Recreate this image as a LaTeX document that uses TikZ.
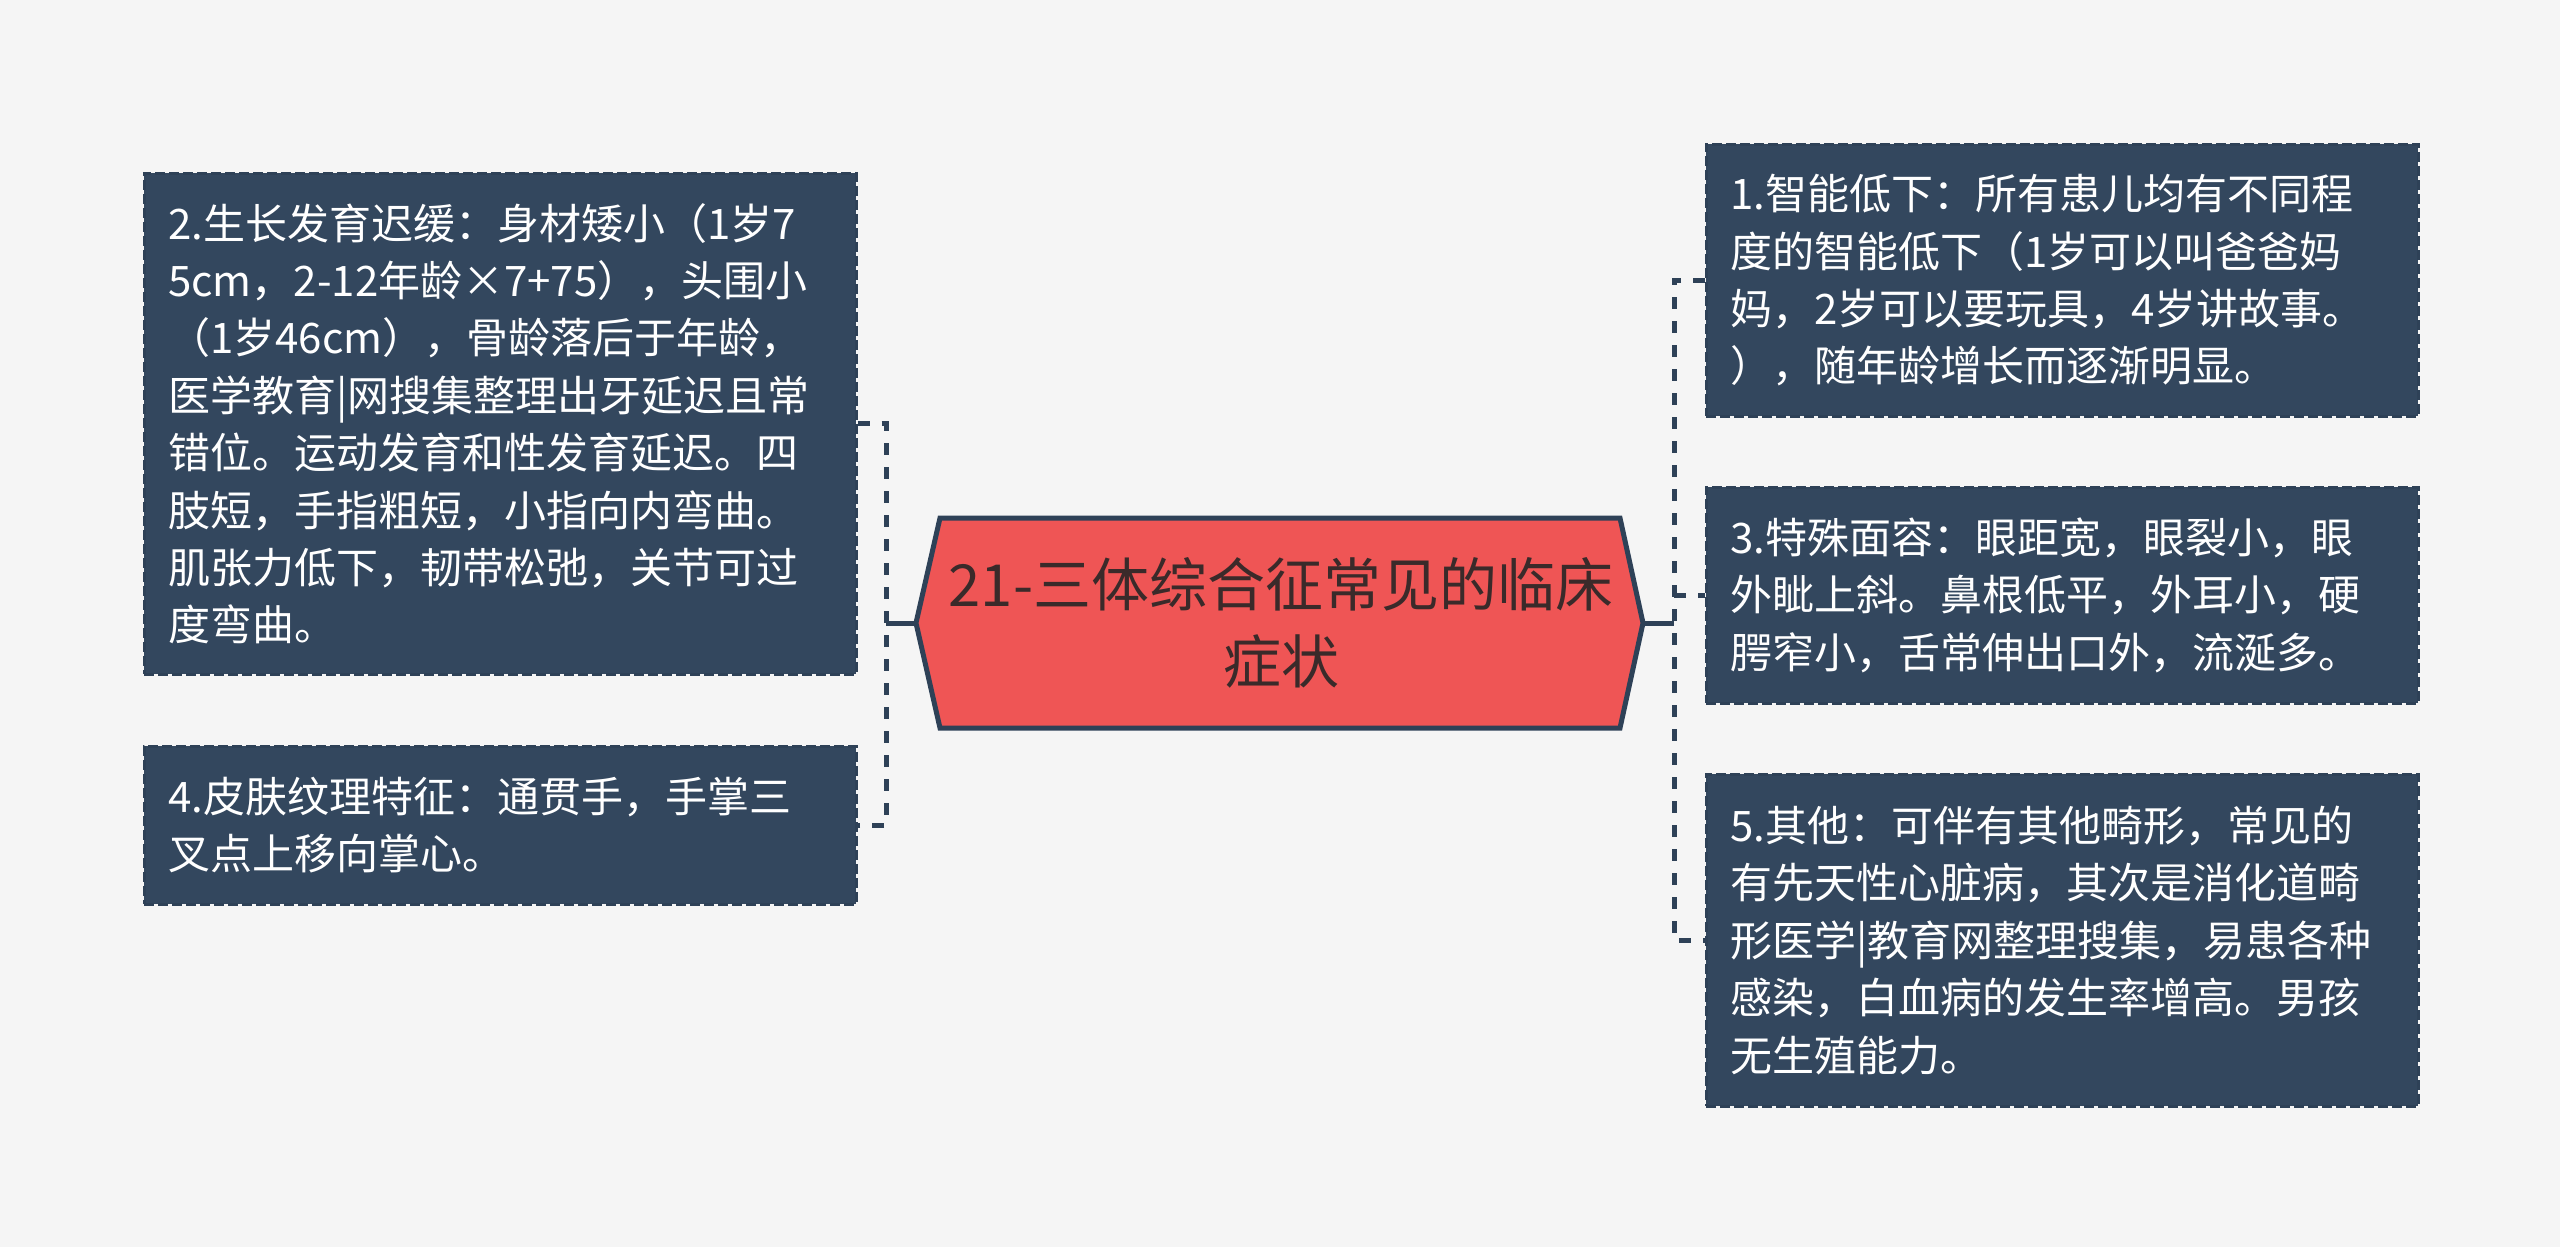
\documentclass[tikz,border=0pt]{standalone}
\usepackage{fontspec}
\setmainfont{Noto Sans CJK SC}
\usepackage{tikz}
\usetikzlibrary{calc}
\usetikzlibrary{positioning}

\definecolor{bgcol}{HTML}{F5F5F5}
\definecolor{navy}{HTML}{33475E}
\definecolor{edgecol}{HTML}{2E4157}
\definecolor{redfill}{HTML}{EF5555}
\definecolor{titletext}{HTML}{3A2A2A}

\begin{document}
\begin{tikzpicture}[x=1pt,y=-1pt,
    card/.style={anchor=north west, fill=navy, draw=edgecol, line width=2.5pt,
      dash pattern=on 10pt off 4pt, text=white, align=left, text width=664pt,
      inner xsep=24pt, inner ysep=0pt, minimum width=712pt,
      font=\fontsize{42}{57.4}\selectfont},
    hexa/.style={fill=redfill, draw=edgecol, line width=5pt, line join=miter},
    stem/.style={draw=edgecol, line width=5pt},
    branch/.style={draw=edgecol, line width=5pt, dash pattern=on 12pt off 12pt}]
    \useasboundingbox[fill=bgcol] (0,0) rectangle (2560,1247);

    % central topic
    \coordinate (ltip) at (916,623);
    \coordinate (rtip) at (1643,623);
    \draw[hexa] (940,518) -- (1620,518) -- (rtip) -- (1620,728) -- (940,728) -- (ltip) -- cycle;
    \node[align=center, text=titletext, font=\fontsize{58}{77}\selectfont] (title) at (1281,623)
      {21-三体综合征常见的临床\\症状};

    % left side
    \node[card, minimum height=501pt] (growth) at (143,172)
      {2.生长发育迟缓：身材矮小（1岁7\\5cm，2-12年龄×7+75），头围小\\（1岁46cm），骨龄落后于年龄，\\医学教育|网搜集整理出牙延迟且常\\错位。运动发育和性发育延迟。四\\肢短，手指粗短，小指向内弯曲。\\肌张力低下，韧带松弛，关节可过\\度弯曲。};
    \node[card, minimum height=158pt] (skin) at (143,745)
      {4.皮肤纹理特征：通贯手，手掌三\\叉点上移向掌心。};

    % right side
    \node[card, minimum height=272pt] (mind) at (1705,143)
      {1.智能低下：所有患儿均有不同程\\度的智能低下（1岁可以叫爸爸妈\\妈，2岁可以要玩具，4岁讲故事。\\），随年龄增长而逐渐明显。};
    \node[card, minimum height=216pt] (face) at (1705,486)
      {3.特殊面容：眼距宽，眼裂小，眼\\外眦上斜。鼻根低平，外耳小，硬\\腭窄小，舌常伸出口外，流涎多。};
    \node[card, minimum height=332pt] (other) at (1705,773)
      {5.其他：可伴有其他畸形，常见的\\有先天性心脏病，其次是消化道畸\\形医学|教育网整理搜集，易患各种\\感染，白血病的发生率增高。男孩\\无生殖能力。};

    % connectors
    \coordinate (lbus) at (886,623);
    \coordinate (rbus) at (1674,623);
    \draw[stem] (ltip) -- (lbus);
    \draw[stem] (rtip) -- (rbus);
    \draw[branch] (growth.east) -- (growth.east -| lbus) -- (skin.east -| lbus) -- (skin.east);
    \draw[branch] (mind.west) -- (mind.west -| rbus) -- (other.west -| rbus) -- (other.west);
    \draw[branch] (face.west -| rbus) -- (face.west);
\end{tikzpicture}
\end{document}
